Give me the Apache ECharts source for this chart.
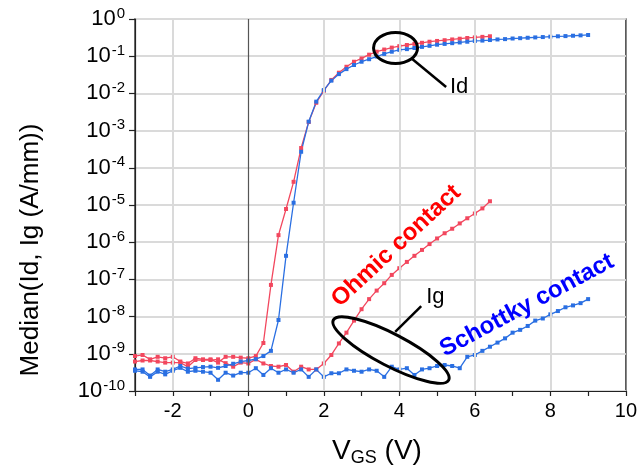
<!DOCTYPE html>
<html>
<head>
<meta charset="utf-8">
<script src="https://cdn.jsdelivr.net/npm/echarts@6/dist/echarts.min.js"></script>
<style>
  html, body { margin: 0; padding: 0; background: #fff; }
  #main { width: 640px; height: 470px; }
</style>
</head>
<body>
<div id="main"></div>
<script>
// Gate-voltage sweeps (V)
const vgsOhmic = [-3.0,-2.8,-2.6,-2.4,-2.2,-2.0,-1.8,-1.6,-1.4,-1.2,-1.0,-0.8,-0.6,-0.4,-0.2,0.0,
  0.2,0.4,0.6,0.8,1.0,1.2,1.4,1.6,1.8,2.0,2.2,2.4,2.6,2.8,3.0,3.2,3.4,3.6,3.8,4.0,
  4.2,4.4,4.6,4.8,5.0,5.2,5.4,5.6,5.8,6.0,6.2,6.4];
const vgsSchottky = [-3.0,-2.8,-2.6,-2.4,-2.2,-2.0,-1.8,-1.6,-1.4,-1.2,-1.0,-0.8,-0.6,-0.4,-0.2,0.0,
  0.2,0.4,0.6,0.8,1.0,1.2,1.4,1.6,1.8,2.0,2.2,2.4,2.6,2.8,3.0,3.2,3.4,3.6,3.8,4.0,
  4.2,4.4,4.6,4.8,5.0,5.2,5.4,5.6,5.8,6.0,6.2,6.4,6.6,6.8,7.0,7.2,7.4,7.6,7.8,8.0,
  8.2,8.4,8.6,8.8,9.0];

// Median drain current Id (A/mm)
const idOhmic = [8.7e-10,9.3e-10,7.1e-10,8.3e-10,7.6e-10,8.3e-10,6.2e-10,5.5e-10,7.6e-10,7.1e-10,7.1e-10,5.8e-10,8.3e-10,8.3e-10,7.9e-10,7.6e-10,
  8.7e-10,1.95e-9,7.1e-8,1.55e-6,7.8e-6,4.2e-5,3.4e-4,1.7e-3,5.6e-3,0.0117,0.023,0.036,0.052,0.071,0.087,0.11,0.132,0.151,0.17,0.186,
  0.20,0.214,0.229,0.245,0.257,0.269,0.282,0.295,0.309,0.32,0.331,0.343];
const idSchottky = [3.8e-10,3.8e-10,2.6e-10,3.8e-10,3.3e-10,3.8e-10,4.7e-10,4.0e-10,4.2e-10,4.4e-10,4.5e-10,4.2e-10,4.7e-10,5.4e-10,6.2e-10,6.6e-10,
  7.2e-10,8.7e-10,1.2e-9,8.1e-9,4.3e-7,1.15e-5,2.7e-4,1.74e-3,6.0e-3,0.0123,0.022,0.033,0.045,0.058,0.071,0.083,0.098,0.115,0.132,0.148,
  0.155,0.166,0.178,0.19,0.204,0.214,0.224,0.234,0.245,0.257,0.263,0.272,0.282,0.288,0.299,0.305,0.313,0.32,0.327,0.335,
  0.343,0.347,0.355,0.363,0.372];

// Median gate current Ig (A/mm)
const igOhmic = [6.2e-10,6.6e-10,6.6e-10,6.2e-10,5.8e-10,5.8e-10,5.8e-10,4.5e-10,6.8e-10,6.8e-10,6.8e-10,7.1e-10,5.6e-10,4.5e-10,5.8e-10,5.5e-10,
  7.1e-10,5.5e-10,4.7e-10,4.5e-10,5.0e-10,3.3e-10,4.5e-10,3.8e-10,3.8e-10,5.5e-10,9.3e-10,1.9e-9,3.7e-9,7.8e-9,1.58e-8,2.95e-8,5.0e-8,7.9e-8,1.32e-7,2.0e-7,
  2.95e-7,4.3e-7,6.2e-7,8.9e-7,1.26e-6,1.74e-6,2.3e-6,3.2e-6,4.4e-6,5.9e-6,8.1e-6,1.26e-5];
const igSchottky = [3.5e-10,3.3e-10,2.4e-10,3.3e-10,2.8e-10,3.5e-10,4.2e-10,3.3e-10,3.5e-10,3.3e-10,3.1e-10,2.0e-10,3.1e-10,2.6e-10,3.1e-10,3.1e-10,
  4.1e-10,2.7e-10,4.1e-10,3.1e-10,3.8e-10,3.1e-10,3.8e-10,2.4e-10,3.8e-10,2.4e-10,3.0e-10,3.0e-10,3.8e-10,3.5e-10,3.3e-10,3.8e-10,3.5e-10,2.4e-10,4.5e-10,3.8e-10,
  4.1e-10,2.7e-10,3.8e-10,4.1e-10,4.7e-10,5.0e-10,4.7e-10,4.1e-10,8.3e-10,9.3e-10,1.2e-9,1.55e-9,2.0e-9,2.6e-9,3.7e-9,4.4e-9,5.6e-9,7.8e-9,8.9e-9,1.15e-8,
  1.41e-8,1.78e-8,2.0e-8,2.3e-8,2.95e-8];

// Axis ticks
const xMajorTicks = [-2, 0, 2, 4, 6, 8, 10];
const xGridLines = [-2, 2, 4, 6, 8];

const RED = '#f2475e';
const BLUE = '#2a6fe2';
const FONT = 'Liberation Sans, Arial, Helvetica, sans-serif';

function pairs(xs, ys) { return xs.map((x, i) => [x, ys[i]]); }

function curve(name, xs, ys, color) {
  return {
    name: name,
    type: 'line',
    data: pairs(xs, ys),
    symbol: 'rect',
    symbolSize: 4,
    showSymbol: true,
    lineStyle: { color: color, width: 1.3 },
    itemStyle: { color: color },
    z: 3,
    animation: false
  };
}

const chart = echarts.init(document.getElementById('main'), null, { renderer: 'canvas' });

const option = {
  animation: false,
  backgroundColor: '#fff',
  grid: {
    left: 135, right: 12, top: 19, bottom: 79,
    show: true, borderColor: '#444', borderWidth: 1.5, backgroundColor: 'transparent'
  },
  xAxis: {
    type: 'value',
    min: -3, max: 10, interval: 1,
    axisLine: { show: true, onZero: false, lineStyle: { color: '#222', width: 1.2 } },
    axisTick: { show: true, inside: false, length: 5, lineStyle: { color: '#222', width: 1.2 } },
    axisLabel: {
      color: '#000', fontSize: 20, fontFamily: FONT, margin: 10,
      formatter: v => (xMajorTicks.indexOf(v) >= 0 ? String(v) : '')
    },
    splitLine: { show: false }
  },
  yAxis: {
    type: 'log',
    logBase: 10,
    min: 1e-10, max: 1,
    interval: 1,
    axisLine: { show: true, onZero: false, lineStyle: { color: '#222', width: 1.2 } },
    axisTick: { show: true, inside: false, length: 6, lineStyle: { color: '#222', width: 1.2 } },
    axisLabel: {
      margin: 10,
      formatter: v => '{b|10}{s|' + Math.round(Math.log10(v)) + '}',
      rich: {
        b: { fontSize: 22, fontFamily: FONT, color: '#000', lineHeight: 26 },
        s: { fontSize: 15, fontFamily: FONT, color: '#000', lineHeight: 26, verticalAlign: 'top', padding: [0, 0, 11, 1] }
      }
    },
    splitLine: { show: true, lineStyle: { color: '#dadada', width: 2 } }
  },
  series: [
    {
      // vertical grid lines and the V = 0 reference line
      type: 'line',
      data: [],
      z: 1,
      silent: true,
      markLine: {
        silent: true,
        symbol: ['none', 'none'],
        label: { show: false },
        animation: false,
        data: xGridLines.map(v => ({ xAxis: v, lineStyle: { color: '#dadada', width: 2, type: 'solid' } }))
          .concat([{ xAxis: 0, lineStyle: { color: '#555', width: 1.2, type: 'solid' } }])
      }
    },
    curve('Ohmic Id', vgsOhmic, idOhmic, RED),
    curve('Ohmic Ig', vgsOhmic, igOhmic, RED),
    curve('Schottky Id', vgsSchottky, idSchottky, BLUE),
    curve('Schottky Ig', vgsSchottky, igSchottky, BLUE)
  ]
};

chart.setOption(option);

// Callouts, anchored in data coordinates
function px(v, i) { return chart.convertToPixel({ gridIndex: 0 }, [v, i]); }

const idRing = px(3.9, 0.166);
const idLeadA = px(4.31, 0.089);
const idLeadB = px(5.24, 0.0148);
const idText = px(5.34, 0.0148);
const igRing = px(3.78, 1.26e-9);
const igLeadA = px(3.89, 3.9e-9);
const igLeadB = px(4.58, 1.9e-8);
const igText = px(4.71, 3.4e-8);
const ohmicText = px(3.92, 7.9e-7);
const schottkyText = px(7.38, 2.0e-8);

chart.setOption({
  graphic: [
    // axis titles
    { type: 'text', x: 31, y: 250, rotation: Math.PI / 2,
      style: { text: 'Median(Id, Ig (A/mm))', fontSize: 26, fontFamily: FONT, fill: '#000', align: 'center', verticalAlign: 'middle' } },
    { type: 'text', x: 377, y: 451,
      style: {
        text: '{v|V}{sub|GS}{v| (V)}', align: 'center', verticalAlign: 'middle',
        rich: {
          v: { fontSize: 28, fontFamily: FONT, fill: '#000', lineHeight: 32 },
          sub: { fontSize: 18, fontFamily: FONT, fill: '#000', lineHeight: 32, verticalAlign: 'bottom', padding: [10, 0, 0, 0] }
        }
      } },
    // callouts
    { type: 'ellipse', shape: { cx: idRing[0], cy: idRing[1], rx: 22, ry: 15.5 },
      style: { fill: 'none', stroke: '#000', lineWidth: 3 }, z: 10 },
    { type: 'line', shape: { x1: idLeadA[0], y1: idLeadA[1], x2: idLeadB[0], y2: idLeadB[1] },
      style: { stroke: '#000', lineWidth: 2.5 }, z: 10 },
    { type: 'text', x: idText[0], y: idText[1],
      style: { text: 'Id', fontSize: 22, fontFamily: FONT, fill: '#000', align: 'left', verticalAlign: 'middle' }, z: 10 },
    { type: 'ellipse', x: igRing[0], y: igRing[1], rotation: -0.48,
      shape: { cx: 0, cy: 0, rx: 65, ry: 16 },
      style: { fill: 'none', stroke: '#000', lineWidth: 3 }, z: 10 },
    { type: 'line', shape: { x1: igLeadA[0], y1: igLeadA[1], x2: igLeadB[0], y2: igLeadB[1] },
      style: { stroke: '#000', lineWidth: 2.5 }, z: 10 },
    { type: 'text', x: igText[0], y: igText[1],
      style: { text: 'Ig', fontSize: 22, fontFamily: FONT, fill: '#000', align: 'left', verticalAlign: 'middle' }, z: 10 },
    { type: 'text', x: ohmicText[0], y: ohmicText[1], rotation: 0.75,
      style: { text: 'Ohmic contact', fontSize: 24, fontWeight: 'bold', fontFamily: FONT, fill: '#ff0000', align: 'center', verticalAlign: 'middle' }, z: 10 },
    { type: 'text', x: schottkyText[0], y: schottkyText[1], rotation: 0.49,
      style: { text: 'Schottky contact', fontSize: 24, fontWeight: 'bold', fontFamily: FONT, fill: '#0000ff', align: 'center', verticalAlign: 'middle' }, z: 10 }
  ]
});
</script>
</body>
</html>
